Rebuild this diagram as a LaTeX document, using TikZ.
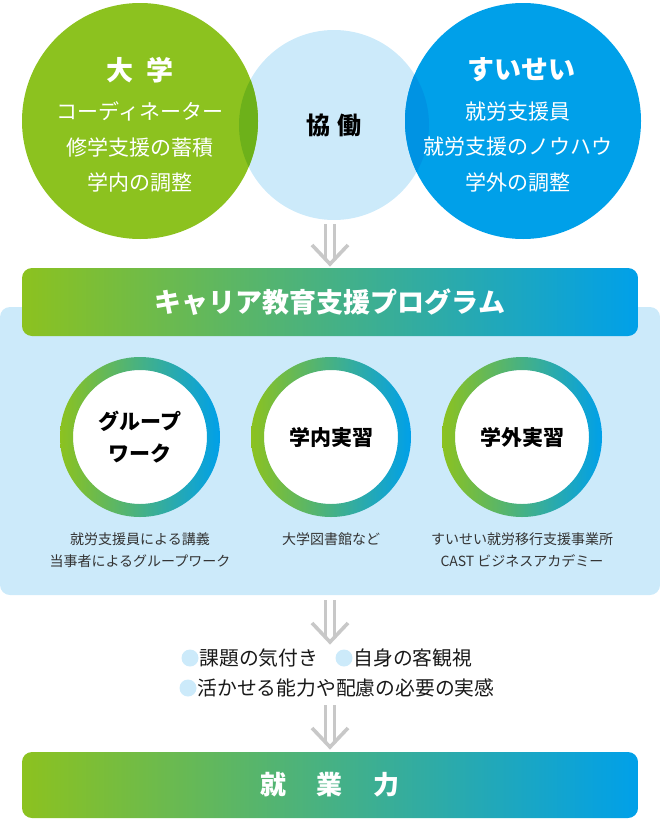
\documentclass[tikz,border=0pt]{standalone}
\usepackage{fontspec}
\setmainfont{Noto Sans CJK JP}
\usepackage{tikz}
\usetikzlibrary{positioning}

\definecolor{unigreen}{HTML}{8CC21F}
\definecolor{suiblue}{HTML}{00A0E9}
\definecolor{paleblue}{HTML}{CCEAFA}
\definecolor{greenov}{HTML}{6DB11A}
\definecolor{blueov}{HTML}{0093E3}
\definecolor{arrowgray}{HTML}{C8C8C8}
\definecolor{capgray}{HTML}{333333}

\begin{document}
\begin{tikzpicture}[
  x=1pt, y=-1pt,
  every node/.style={inner sep=0pt, outer sep=0pt},
  bigcircle/.style={circle, minimum size=236pt},
  headw/.style={text=white, font=\fontsize{27}{30}\selectfont\bfseries},
  bodyw/.style={text=white, align=center, font=\fontsize{21}{35.5}\selectfont},
  band/.style={rounded corners=10pt, minimum width=616pt, left color=unigreen, right color=suiblue, text=white},
  ring/.style={circle, fill=white, minimum size=134pt, align=center, font=\fontsize{21}{32}\selectfont\bfseries},
  caption/.style={anchor=north, align=center, text=capgray, font=\fontsize{14}{22}\selectfont},
  dot/.style={circle, fill=paleblue, minimum size=17pt},
  point/.style={font=\fontsize{19.8}{24}\selectfont, text=black!90},
  stem/.style={draw=arrowgray, line width=3pt},
  barb/.style={draw=arrowgray, line width=3.6pt, line join=miter},
]
  \useasboundingbox (0,0) rectangle (660,819);

  % Top: university, cooperation, suisei
  \node[circle, minimum size=190pt, fill=paleblue, font=\fontsize{24}{28}\selectfont\bfseries] (kyodo) at (334,125) {協\hspace{7pt}働};
  \node[bigcircle, fill=unigreen, path picture={\fill[greenov] (kyodo.center) circle[radius=95pt];}] (daigaku) at (140,121) {};
  \node[bigcircle, fill=suiblue, path picture={\fill[blueov] (kyodo.center) circle[radius=95pt];}] (suisei) at (523,121) {};

  \node[headw] (daigaku-h) at (140,70) {大\hspace{13pt}学};
  \node[bodyw] (daigaku-b) at (140,147) {コーディネーター\\修学支援の蓄積\\学内の調整};
  \node[headw] (suisei-h) at (521,70) {すいせい};
  \node[bodyw] (suisei-b) at (518,147) {就労支援員\\就労支援のノウハウ\\学外の調整};

  % Middle: program panel
  \node[rounded corners=10pt, fill=paleblue, minimum width=660pt, minimum height=288pt] (panel) at (330,451) {};
  \node[band, minimum height=68pt, font=\fontsize{27}{30}\selectfont\bfseries] (prog) at (330,302) {キャリア教育支援プログラム};

  \node[ring] (gw) at (140,437) {グループ\\ワーク};
  \node[ring] (naibu) at (331,437) {学内実習};
  \node[ring] (gaibu) at (522,437) {学外実習};
  \shade[left color=unigreen, right color=suiblue, even odd rule] (gw.center) circle[radius=80pt] circle[radius=67pt];
  \shade[left color=unigreen, right color=suiblue, even odd rule] (naibu.center) circle[radius=80pt] circle[radius=67pt];
  \shade[left color=unigreen, right color=suiblue, even odd rule] (gaibu.center) circle[radius=80pt] circle[radius=67pt];

  \node[caption] (gw-c) at (140,533) {就労支援員による講義\\当事者によるグループワーク};
  \node[caption] (naibu-c) at (331,533) {大学図書館など};
  \node[caption] (gaibu-c) at (522,533) {すいせい就労移行支援事業所\\CAST ビジネスアカデミー};

  % Bottom: outcomes and goal
  \node[dot] (d1) at (190,658) {};
  \node[point, right=1pt of d1] (p1) {課題の気付き};
  \node[dot] (d2) at (344,658) {};
  \node[point, right=1pt of d2] (p2) {自身の客観視};
  \node[dot] (d3) at (188,688) {};
  \node[point, right=1pt of d3] (p3) {活かせる能力や配慮の必要の実感};

  \node[band, minimum height=66pt, font=\fontsize{26}{30}\selectfont\bfseries] (goal) at (330,785) {就\hspace{31pt}業\hspace{31pt}力};

  % Arrows
  \coordinate (a1) at (330,224); \coordinate (b1) at (330,264);
  \coordinate (a2) at (330,600); \coordinate (b2) at (330,642);
  \coordinate (a3) at (330,705); \coordinate (b3) at (330,747);
  \foreach \i in {1,2,3}{
    \draw[stem] ([xshift=-4.3pt]a\i) -- ([xshift=-4.3pt,yshift=4pt]b\i);
    \draw[stem] ([xshift=4.3pt]a\i) -- ([xshift=4.3pt,yshift=4pt]b\i);
    \draw[barb] ([shift={(-18pt,19pt)}]b\i) -- (b\i) -- ([shift={(18pt,19pt)}]b\i);
  }
\end{tikzpicture}
\end{document}
